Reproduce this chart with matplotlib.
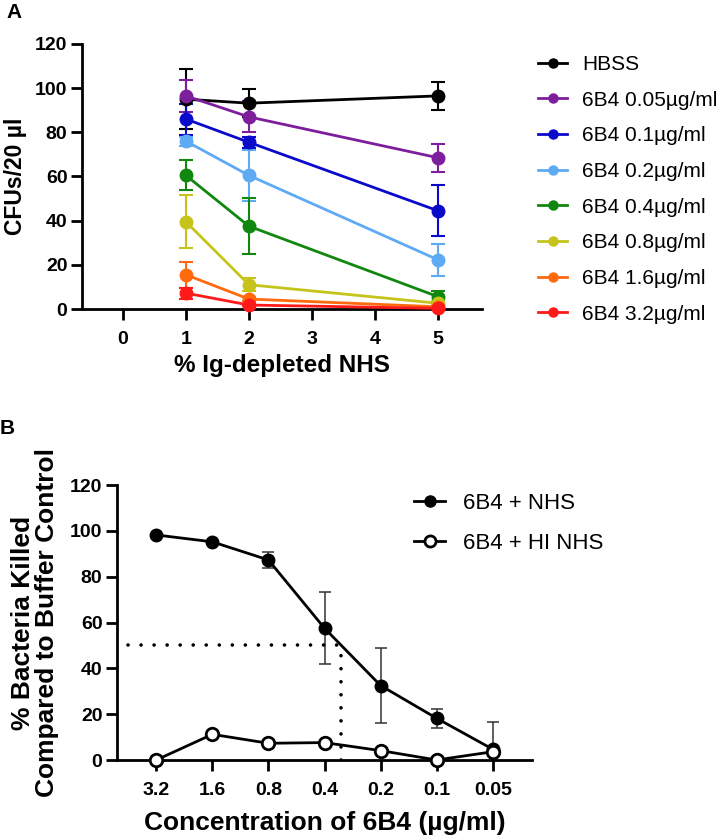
import numpy as np
import matplotlib.pyplot as plt
from matplotlib.lines import Line2D

plt.rcParams['font.family'] = ['Liberation Sans', 'DejaVu Sans']

# ---- Panel A data ----
nhs_pct = [1, 2, 5]
series_labels = ['HBSS', '6B4 0.05µg/ml', '6B4 0.1µg/ml', '6B4 0.2µg/ml',
                 '6B4 0.4µg/ml', '6B4 0.8µg/ml', '6B4 1.6µg/ml', '6B4 3.2µg/ml']
series_colors = ['#000000', '#7d1e9c', '#0a0acb', '#5eaaf5',
                 '#10870f', '#c6c41b', '#ff6a0c', '#ff1a1a']
cfu_means = [
    [95.0, 93.2, 96.5],
    [96.5, 87.0, 68.5],
    [86.0, 75.5, 44.5],
    [76.0, 60.5, 22.3],
    [60.5, 37.5, 5.6],
    [39.5, 11.0, 2.6],
    [15.5, 4.5, 1.0],
    [7.2, 1.8, 0.3],
]
cfu_err = [
    [13.5, 6.4, 6.4],
    [7.4, 7.0, 6.4],
    [7.0, 2.5, 11.5],
    [2.0, 11.5, 7.2],
    [6.8, 12.8, 2.7],
    [12.0, 3.0, 1.0],
    [6.0, 1.0, 0.5],
    [2.5, 0.5, 0.2],
]
xticksA = [0, 1, 2, 3, 4, 5]
yticks = [0, 20, 40, 60, 80, 100, 120]

# ---- Panel B data ----
conc_labels = ['3.2', '1.6', '0.8', '0.4', '0.2', '0.1', '0.05']
killed_nhs = [98.2, 95.2, 87.3, 57.5, 32.5, 18.2, 4.7]
killed_nhs_err = [0.5, 0.5, 3.6, 15.8, 16.3, 4.1, 12.0]
killed_hi = [0.0, 11.2, 7.3, 7.6, 4.1, 0.0, 3.6]
ic50_pos = 3.3

W, H = 722, 838
fig = plt.figure(figsize=(W / 100, H / 100), dpi=100)
tick_font = dict(fontsize=14, fontweight='bold')

def px_axes(l, t, r, b):
    return fig.add_axes([l / W, 1 - b / H, (r - l) / W, (b - t) / H])

def style_axes(ax):
    for s in ['top', 'right']:
        ax.spines[s].set_visible(False)
    for s in ['left', 'bottom']:
        ax.spines[s].set_linewidth(2)
    ax.tick_params(axis='y', width=2, length=8, pad=2.5)
    ax.tick_params(axis='x', width=2, length=8, pad=7.5)

# ---- Panel A ----
axA = px_axes(82, 44, 482, 309)
handlesA = []
for lab, col, m, e in zip(series_labels, series_colors, cfu_means, cfu_err):
    axA.errorbar(nhs_pct, m, yerr=e, fmt='none', ecolor=col, elinewidth=1.5,
                 capsize=5, capthick=1.5, zorder=2)
    axA.plot(nhs_pct, m, color=col, marker='o', markersize=9, linewidth=2,
             clip_on=False, zorder=3)
    handlesA.append(Line2D([], [], color=col, marker='o', markersize=6.5,
                           linewidth=2, label=lab))
axA.set_xlim(-0.65, 5.7)
axA.set_ylim(0, 120)
style_axes(axA)
axA.set_xticks(xticksA, [str(t) for t in xticksA], **tick_font)
axA.set_yticks(yticks, [str(t) for t in yticks], **tick_font)
axA.set_xlabel('% Ig-depleted NHS', fontsize=17.5, fontweight='bold', labelpad=5)
axA.set_ylabel('CFUs/20 µl', fontsize=16.5, fontweight='bold', labelpad=6)
axA.legend(handles=handlesA, loc='upper left', bbox_to_anchor=(538 / W, 1 - 55 / H),
           bbox_transform=fig.transFigure, frameon=False, fontsize=15,
           handlelength=1.4, labelspacing=0.8, handletextpad=0.7,
           borderaxespad=0, borderpad=0)
fig.text(6 / W, 1 - 12 / H, 'A', fontsize=15, fontweight='bold', va='center')

# ---- Panel B ----
axB = px_axes(117, 485, 532, 760)
xpos = np.arange(len(conc_labels))
axB.errorbar(xpos, killed_nhs, yerr=killed_nhs_err, fmt='none', ecolor='#333333',
             elinewidth=1.1, capsize=4.5, capthick=1.1, zorder=2)
axB.plot(xpos, killed_nhs, color='black', marker='o', markersize=9,
         linewidth=2, clip_on=False, zorder=3)
axB.plot(xpos, killed_hi, color='black', marker='o', markersize=9,
         markerfacecolor='white', markeredgewidth=2, linewidth=2,
         clip_on=False, zorder=4)
axB.plot([-0.5, ic50_pos], [50, 50], color='black', linestyle=(0, (0.01, 3.6)),
         linewidth=2.6, dash_capstyle='round', zorder=2)
axB.plot([ic50_pos, ic50_pos], [0, 50], color='black', linestyle=(0, (0.01, 3.6)),
         linewidth=2.6, dash_capstyle='round', zorder=2)
axB.set_xlim(-0.7, 6.7)
axB.set_ylim(0, 120)
style_axes(axB)
axB.set_xticks(xpos, conc_labels, **tick_font)
axB.set_yticks(yticks, [str(t) for t in yticks], **tick_font)
axB.set_xlabel('Concentration of 6B4 (µg/ml)', fontsize=19, fontweight='bold', labelpad=9)
axB.set_ylabel('% Bacteria Killed\nCompared to Buffer Control', fontsize=19,
               fontweight='bold', labelpad=8, linespacing=1.0)
handlesB = [
    Line2D([], [], color='black', marker='o', markersize=8, linewidth=2,
           label='6B4 + NHS'),
    Line2D([], [], color='black', marker='o', markersize=8, linewidth=2,
           markerfacecolor='white', markeredgewidth=2, label='6B4 + HI NHS'),
]
axB.legend(handles=handlesB, loc='upper left', bbox_to_anchor=(414 / W, 1 - 493 / H),
           bbox_transform=fig.transFigure, frameon=False, fontsize=16,
           handlelength=1.4, labelspacing=0.84, handletextpad=0.8,
           borderaxespad=0, borderpad=0)
fig.text(0 / W, 1 - 428 / H, 'B', fontsize=15, fontweight='bold', va='center')

fig.savefig('out.png', dpi=100)
